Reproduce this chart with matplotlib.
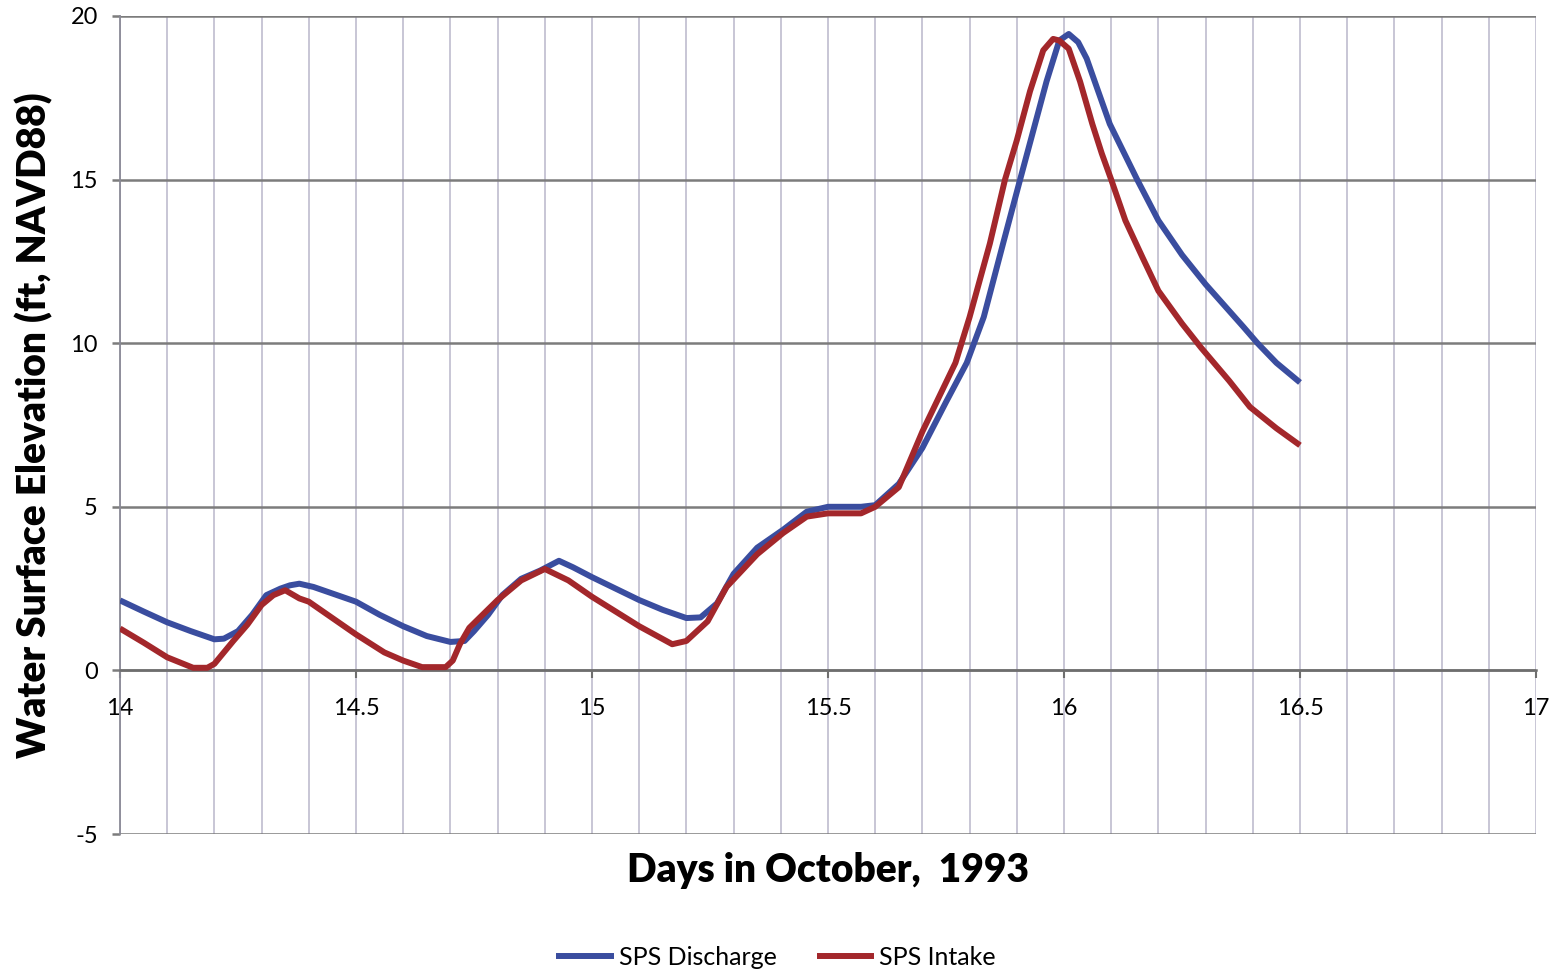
import numpy as np
import matplotlib
matplotlib.use('Agg')
import matplotlib.pyplot as plt
from matplotlib.ticker import MultipleLocator

plt.rcParams['font.family'] = ['Lato', 'DejaVu Sans']
plt.rcParams['axes.unicode_minus'] = False

# SPS Discharge (blue)
dias_descarga = [14.00, 14.05, 14.10, 14.15, 14.20, 14.22, 14.25, 14.28, 14.31, 14.34,
                 14.36, 14.38, 14.41, 14.45, 14.50, 14.55, 14.60, 14.65, 14.70, 14.73,
                 14.75, 14.78, 14.81, 14.85, 14.89, 14.93, 14.96, 15.00, 15.05, 15.10,
                 15.15, 15.20, 15.23, 15.265, 15.30, 15.35, 15.405, 15.455, 15.50, 15.57,
                 15.60, 15.65, 15.70, 15.75, 15.794, 15.83, 15.871, 15.907, 15.935, 15.963,
                 15.99, 16.01, 16.03, 16.048, 16.07, 16.097, 16.155, 16.20, 16.25, 16.30,
                 16.38, 16.41, 16.45, 16.50]
nivel_descarga = [2.14, 1.80, 1.47, 1.20, 0.95, 0.97, 1.20, 1.70, 2.30, 2.50,
                  2.60, 2.65, 2.55, 2.35, 2.10, 1.70, 1.35, 1.05, 0.87, 0.90,
                  1.20, 1.70, 2.30, 2.80, 3.05, 3.35, 3.15, 2.85, 2.50, 2.15,
                  1.85, 1.60, 1.62, 2.05, 2.95, 3.75, 4.30, 4.85, 5.00, 5.00,
                  5.05, 5.70, 6.80, 8.20, 9.40, 10.80, 13.05, 15.00, 16.50, 18.00,
                  19.25, 19.45, 19.20, 18.70, 17.80, 16.70, 15.00, 13.75, 12.70, 11.80,
                  10.50, 10.00, 9.40, 8.80]

# SPS Intake (red)
dias_entrada = [14.00, 14.05, 14.10, 14.155, 14.185, 14.20, 14.24, 14.27, 14.30, 14.325,
                14.35, 14.38, 14.40, 14.45, 14.50, 14.56, 14.60, 14.64, 14.69, 14.705,
                14.72, 14.74, 14.80, 14.85, 14.90, 14.95, 15.00, 15.05, 15.10, 15.17,
                15.20, 15.245, 15.285, 15.35, 15.405, 15.455, 15.50, 15.57, 15.60, 15.65,
                15.70, 15.77, 15.80, 15.843, 15.875, 15.90, 15.928, 15.956, 15.977, 15.99,
                16.01, 16.034, 16.06, 16.08, 16.10, 16.13, 16.167, 16.20, 16.25, 16.29,
                16.35, 16.394, 16.45, 16.50]
nivel_entrada = [1.28, 0.85, 0.40, 0.08, 0.08, 0.20, 0.90, 1.40, 2.00, 2.30,
                 2.45, 2.20, 2.10, 1.60, 1.10, 0.55, 0.30, 0.10, 0.10, 0.30,
                 0.80, 1.30, 2.15, 2.75, 3.10, 2.75, 2.25, 1.80, 1.35, 0.80,
                 0.90, 1.50, 2.55, 3.55, 4.20, 4.70, 4.80, 4.80, 5.00, 5.60,
                 7.30, 9.40, 10.80, 13.05, 15.00, 16.20, 17.70, 18.95, 19.30, 19.25,
                 19.00, 18.00, 16.70, 15.80, 15.00, 13.75, 12.60, 11.60, 10.60, 9.87,
                 8.85, 8.05, 7.40, 6.88]

xticks = [14, 14.5, 15, 15.5, 16, 16.5, 17]
xtick_labels = ['14', '14.5', '15', '15.5', '16', '16.5', '17']
yticks = [-5, 0, 5, 10, 15, 20]

fig = plt.figure(figsize=(15.6, 9.71), dpi=100)
ax = fig.add_axes([120/1560, 1 - 834/971, 1416/1560, 818/971])

ax.plot(dias_descarga, nivel_descarga, color='#3a4d9f', lw=4.3, label='SPS Discharge',
        solid_capstyle='butt', solid_joinstyle='round', zorder=3)
ax.plot(dias_entrada, nivel_entrada, color='#a3272b', lw=4.3, label='SPS Intake',
        solid_capstyle='butt', solid_joinstyle='round', zorder=4)

ax.set_xlim(14, 17)
ax.set_ylim(-5, 20)
ax.set_xticks(xticks)
ax.set_xticklabels(xtick_labels)
ax.xaxis.set_minor_locator(MultipleLocator(0.1))
ax.set_yticks(yticks)

# grade
ax.grid(which='both', axis='x', color='#c4c2d2', lw=1.3, zorder=0)
ax.grid(which='major', axis='y', color='#7c7c7c', lw=1.8, zorder=1)

for s in ['top', 'right']:
    ax.spines[s].set_visible(False)
ax.spines['left'].set_color('#8a8a96')
ax.spines['left'].set_linewidth(1.3)
ax.spines['bottom'].set_position(('data', 0))
ax.spines['bottom'].set_color('#6e6e6e')
ax.spines['bottom'].set_linewidth(1.8)

ax.tick_params(axis='x', which='major', direction='out', length=6, width=1.5,
               color='#6e6e6e', pad=14, labelsize=17)
ax.tick_params(axis='x', which='minor', length=0)
ax.tick_params(axis='y', direction='out', length=6, width=1.8, color='#7c7c7c',
               pad=10, labelsize=17)

ax.set_xlabel('Days in October,  1993', fontsize=28, fontweight='heavy')
ax.xaxis.set_label_coords(0.5, -0.022)
ax.set_ylabel('Water Surface Elevation (ft, NAVD88)', fontsize=28, fontweight='heavy')
ax.yaxis.set_label_coords(-0.047, 0.5)

fig.legend(loc='center', bbox_to_anchor=(776/1560, 1 - 957/971), ncol=2, frameon=False,
           fontsize=18, handlelength=2.3, handletextpad=0.2, columnspacing=1.6)

fig.savefig('out.png', dpi=100, facecolor='white')
